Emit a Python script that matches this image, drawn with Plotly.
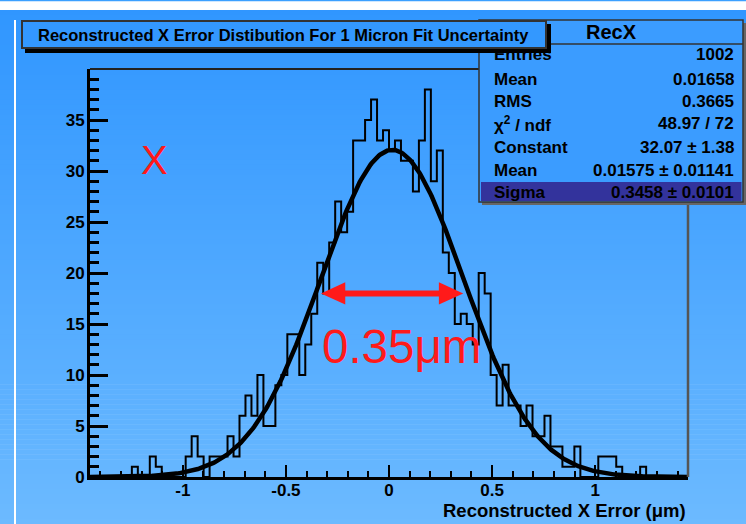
import numpy as np
import plotly.graph_objects as go

# ---------------- data ----------------
BIN_LOW, BIN_HIGH, N_BINS = -1.45, 1.45, 100
COUNTS = [
    0, 0, 0, 0, 0, 0, 0, 1, 0, 0,
    2, 1, 0, 0, 0, 0, 2, 4, 2, 0,
    2, 2, 2, 4, 2, 6, 8, 6, 10, 5,
    5, 9, 10, 14, 14, 10, 13, 16, 21, 18,
    23, 27, 24, 26, 33, 33, 35, 37, 33, 34,
    32, 33, 31, 31, 28, 33, 38, 29, 32, 22,
    20, 15, 16, 15, 13, 20, 18, 10, 7, 11,
    7, 7, 5, 7, 4, 4, 6, 3, 3, 1,
    1, 3, 0, 0, 0, 2, 2, 2, 1, 0,
    0, 0, 1, 0, 0, 0, 0, 0, 0, 0,
]
FIT_CONSTANT, FIT_MEAN, FIT_SIGMA = 32.07, 0.01575, 0.3458

X_RANGE = [-1.45, 1.45]
Y_RANGE = [0, 40]
X_TICK_VALUES = [-1, -0.5, 0, 0.5, 1]
X_TICK_LABELS = ["-1", "-0.5", "0", "0.5", "1"]
Y_TICK_VALUES = [0, 5, 10, 15, 20, 25, 30, 35]
Y_TICK_LABELS = ["0", "5", "10", "15", "20", "25", "30", "35"]

TITLE = "Reconstructed X Error Distibution For 1 Micron Fit Uncertainty"
HIST_NAME = "RecX"
X_TITLE = "Reconstructed X Error (\u03bcm)"
STAT_LABELS = ["Entries", "Mean", "RMS", "\u03c7<sup>2</sup> / ndf", "Constant", "Mean", "Sigma"]
STAT_VALUES = ["1002", "0.01658", "0.3665", "48.97 / 72", "32.07 \u00b1 1.38",
               "0.01575 \u00b1 0.01141", "0.3458 \u00b1 0.0101"]
PANEL_LABEL = "X"
WIDTH_LABEL = "0.35\u03bcm"
ARROW_X = [-0.33, 0.36]
ARROW_Y = 18

# ---------------- geometry helpers (pixels -> paper) ----------------
W, H = 746, 524
PL, PR, PT, PB = 90, 688, 69, 477


def px(x):
    return (x - PL) / (PR - PL)


def py(y):
    return (PB - y) / (PB - PT)


def grad(y):
    t = max(0.0, min(1.0, (y - 10) / (H - 10)))
    c0, c1 = (48, 150, 255), (108, 186, 255)
    return "rgb(%d,%d,%d)" % tuple(round(a + (b - a) * t) for a, b in zip(c0, c1))


FONT = "Liberation Sans, Arial, Helvetica, sans-serif"

edges = np.linspace(BIN_LOW, BIN_HIGH, N_BINS + 1)
step_y = list(COUNTS) + [COUNTS[-1]]

fig = go.Figure()
fig.add_trace(go.Scatter(x=edges, y=step_y, mode="lines", line_shape="hv",
                         line=dict(color="black", width=2), hoverinfo="skip"))
xf = np.linspace(X_RANGE[0], X_RANGE[1], 500)
yf = FIT_CONSTANT * np.exp(-0.5 * ((xf - FIT_MEAN) / FIT_SIGMA) ** 2)
fig.add_trace(go.Scatter(x=xf, y=yf, mode="lines",
                         line=dict(color="black", width=4.5), hoverinfo="skip"))

shapes = []
# background gradient
n_strips = 103
for i in range(n_strips):
    y0 = 10 + i * (H - 10) / n_strips
    y1 = 10 + (i + 1) * (H - 10) / n_strips + 0.6
    shapes.append(dict(type="rect", xref="paper", yref="paper", layer="below",
                       x0=px(0), x1=px(W), y0=py(y0), y1=py(y1),
                       fillcolor=grad((y0 + y1) / 2), line=dict(width=0)))
shapes.append(dict(type="rect", xref="paper", yref="paper", layer="below",
                   x0=px(0), x1=px(W), y0=py(0), y1=py(1.2),
                   fillcolor="rgb(60,160,255)", line=dict(width=0)))
shapes.append(dict(type="line", xref="paper", yref="paper", layer="below",
                   x0=px(15), x1=px(15), y0=py(20), y1=py(H),
                   line=dict(color="white", width=2)))
# frame top & right
shapes.append(dict(type="line", xref="paper", yref="paper", layer="above",
                   x0=px(PL), x1=px(PR), y0=py(PT), y1=py(PT),
                   line=dict(color="#222", width=2)))
shapes.append(dict(type="line", xref="paper", yref="paper", layer="above",
                   x0=px(PR), x1=px(PR), y0=py(PT), y1=py(PB),
                   line=dict(color="#555", width=2.5)))
# stats box
SB = dict(x0=479, x1=743, y0=20, y1=202)
shapes.append(dict(type="rect", xref="paper", yref="paper", layer="above",
                   x0=px(SB["x0"] + 3), x1=px(SB["x1"] + 3), y0=py(SB["y0"] + 3), y1=py(SB["y1"] + 3),
                   fillcolor="#666", line=dict(width=0)))
shapes.append(dict(type="rect", xref="paper", yref="paper", layer="above",
                   x0=px(SB["x0"]), x1=px(SB["x1"]), y0=py(SB["y0"]), y1=py(SB["y1"]),
                   fillcolor=grad(100), line=dict(color="#333", width=1.5)))
shapes.append(dict(type="line", xref="paper", yref="paper", layer="above",
                   x0=px(SB["x0"]), x1=px(SB["x1"]), y0=py(44), y1=py(44),
                   line=dict(color="#333", width=1.5)))
shapes.append(dict(type="rect", xref="paper", yref="paper", layer="above",
                   x0=px(481), x1=px(741.5), y0=py(182), y1=py(201),
                   fillcolor="#33339c", line=dict(width=0)))
# red double arrow
head_len, head_half = 0.118, 1.1
shapes.append(dict(type="line", xref="x", yref="y", layer="above",
                   x0=ARROW_X[0] + head_len * 0.8, x1=ARROW_X[1] - head_len * 0.8,
                   y0=ARROW_Y, y1=ARROW_Y, line=dict(color="#ff1a1a", width=6)))
shapes.append(dict(type="path", xref="x", yref="y", layer="above",
                   path="M %f,%f L %f,%f L %f,%f Z" % (
                       ARROW_X[0], ARROW_Y, ARROW_X[0] + head_len, ARROW_Y + head_half,
                       ARROW_X[0] + head_len, ARROW_Y - head_half),
                   fillcolor="#ff1a1a", line=dict(width=0)))
shapes.append(dict(type="path", xref="x", yref="y", layer="above",
                   path="M %f,%f L %f,%f L %f,%f Z" % (
                       ARROW_X[1], ARROW_Y, ARROW_X[1] - head_len, ARROW_Y + head_half,
                       ARROW_X[1] - head_len, ARROW_Y - head_half),
                   fillcolor="#ff1a1a", line=dict(width=0)))

ann = []
row_y = [55, 79, 101, 124, 147, 170, 192]
for lab, val, yy in zip(STAT_LABELS, STAT_VALUES, row_y):
    ann.append(dict(xref="paper", yref="paper", x=px(492), y=py(yy), xanchor="left",
                    yanchor="middle", text=lab, showarrow=False,
                    font=dict(family=FONT, size=17, color="black", weight="bold")))
    ann.append(dict(xref="paper", yref="paper", x=px(736), y=py(yy), xanchor="right",
                    yanchor="middle", text=val, showarrow=False,
                    font=dict(family=FONT, size=17, color="black", weight="bold")))
ann.append(dict(xref="paper", yref="paper", x=px(611), y=py(32), xanchor="center",
                yanchor="middle", text=HIST_NAME, showarrow=False,
                font=dict(family=FONT, size=20, color="black", weight="bold")))
# title box: shadow, box, text (drawn after stats so it covers them)
ann.append(dict(xref="paper", yref="paper", x=px(25), y=py(24), xanchor="left", yanchor="top",
                text=" ", showarrow=False, width=522, height=25, bgcolor="black",
                bordercolor="black", borderwidth=2, borderpad=0))
ann.append(dict(xref="paper", yref="paper", x=px(21), y=py(20), xanchor="left", yanchor="top",
                text=" ", showarrow=False, width=522, height=25, bgcolor=grad(35),
                bordercolor="#333", borderwidth=2, borderpad=0))
ann.append(dict(xref="paper", yref="paper", x=px(36), y=py(35), xanchor="left",
                yanchor="middle", text=TITLE, showarrow=False,
                font=dict(family=FONT, size=16.5, color="black", weight="bold")))
ann.append(dict(xref="paper", yref="paper", x=px(688), y=py(511), xanchor="right",
                yanchor="middle", text=X_TITLE, showarrow=False,
                font=dict(family=FONT, size=18.5, color="black", weight="bold")))
ann.append(dict(xref="paper", yref="paper", x=px(154), y=py(160), xanchor="center",
                yanchor="middle", text=PANEL_LABEL, showarrow=False,
                font=dict(family=FONT, size=40, color="#ff1a1a")))
ann.append(dict(xref="paper", yref="paper", x=px(320), y=py(346), xanchor="left",
                yanchor="middle", text=WIDTH_LABEL, showarrow=False,
                font=dict(family=FONT, size=47.5, color="#ff1a1a")))

fig.update_layout(
    width=W, height=H,
    margin=dict(l=PL, r=W - PR, t=PT, b=H - PB, pad=0),
    paper_bgcolor="white", plot_bgcolor="rgba(0,0,0,0)",
    showlegend=False, shapes=shapes, annotations=ann,
    xaxis=dict(range=X_RANGE, tickmode="array", tickvals=X_TICK_VALUES, ticktext=X_TICK_LABELS,
               ticks="inside", ticklen=12, tickwidth=2, tickcolor="black",
               minor=dict(ticks="inside", tickmode="linear", tick0=0, dtick=0.1, ticklen=6,
                          tickwidth=2, tickcolor="black", showgrid=False),
               showline=True, linecolor="black", linewidth=3, showgrid=False, zeroline=False,
               tickfont=dict(family=FONT, size=17, color="black", weight="bold"),
               ticklabelstandoff=-4),
    yaxis=dict(range=Y_RANGE, tickmode="array", tickvals=Y_TICK_VALUES, ticktext=Y_TICK_LABELS,
               ticks="inside", ticklen=18, tickwidth=2.5, tickcolor="black",
               minor=dict(ticks="inside", tickmode="linear", tick0=0, dtick=1, ticklen=9,
                          tickwidth=2.5, tickcolor="black", showgrid=False),
               showline=True, linecolor="black", linewidth=3, showgrid=False, zeroline=False,
               tickfont=dict(family=FONT, size=17, color="black", weight="bold"),
               ticklabelstandoff=-1),
)

fig.write_html("out.html", config={"displayModeBar": False},
               post_script="document.body.style.margin='0';document.body.style.padding='0';")
